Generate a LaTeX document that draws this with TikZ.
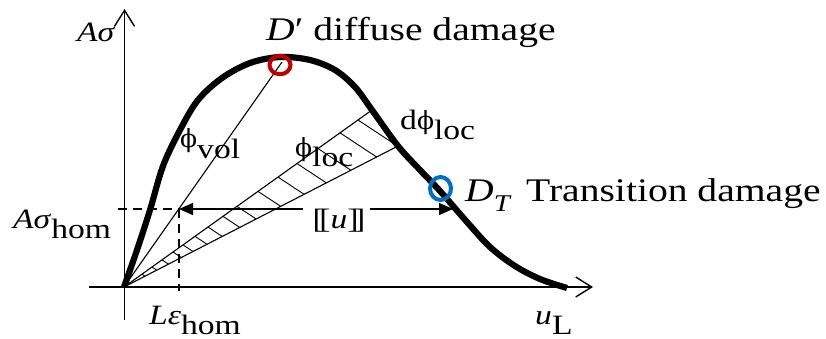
\documentclass[tikz,border=0pt]{standalone}
\usepackage{fontspec}
\setmainfont{Liberation Serif}[FakeStretch=1.2]
\newfontfamily\phifont{DejaVu Serif}
\usetikzlibrary{arrows.meta,calc,shapes.geometric}
\definecolor{dred}{HTML}{C00000}
\definecolor{dblue}{HTML}{0070C0}
\newcommand{\fsz}[1]{\fontsize{#1}{#1}\selectfont}
\newcommand{\lsub}[1]{\raisebox{-10pt}{#1}}
\newcommand{\phig}{{\phifont\fsz{25}ϕ}}
\begin{document}
\begin{tikzpicture}[x=1pt,y=-1pt,
  axis/.style={line width=1.4pt,-{Straight Barb[length=16pt,width=20pt,line width=1.4pt]}},
  thinln/.style={line width=1.1pt},
  hatchln/.style={line width=0.9pt},
  bigcurve/.style={line width=6.2pt,line join=round},
  dsh/.style={line width=1.3pt,dash pattern=on 9pt off 6pt},
  uarrow/.style={line width=1.3pt,-{Triangle[length=14pt,width=12pt]}},
  lbl/.style={inner sep=0pt,anchor=base west,font=\fsz{28}},
  biglbl/.style={inner sep=0pt,anchor=base west,font=\fsz{33}},
  ring/.style={ellipse,line width=4pt,inner sep=0pt}]
\useasboundingbox (0,0) rectangle (826,339);
% key points
\coordinate (O) at (124,287);
\coordinate (Yb) at (124.5,320);
\coordinate (Yt) at (124.5,9);
\coordinate (Xl) at (89,287);
\coordinate (Xt) at (593,287);
\coordinate (P) at (282,62);
\coordinate (U) at (372,110);
\coordinate (W) at (398,146);
\coordinate (Hc) at (179,209);
\coordinate (Hl) at (118,209);
\coordinate (Vb) at (179,291);
\coordinate (aL) at (303,209);
\coordinate (aR) at (370,209);
\coordinate (R) at (453,209);
% axes
\draw[axis] (Yb) -- (Yt);
\draw[axis] (Xl) -- (Xt);
% dashed guides
\draw[dsh] (Hl) -- (Hc);
\draw[dsh] (Hc) -- (Vb);
% secant lines
\draw[thinln] (O) -- (P);
\draw[thinln] (O) -- (U);
\draw[thinln] (O) -- (W);
% hatching
\foreach \xx in {142,152,162,173,183,195,208,223,237,258,278,297,318,340,358} {
  \pgfmathsetmacro\tpos{(\xx-124)/248}
  \coordinate (h) at ($(O)!\tpos!(U)$);
  \draw[hatchln] (h) -- (intersection cs: first line={(h)--($(h)+(20,13.2)$)}, second line={(O)--(W)});
}
% curve
\draw[bigcurve] plot[smooth,tension=0.55] coordinates {(124,287) (137,250) (150,210) (163,166) (180,130) (198,100) (222,78) (250,63) (280,57) (310,60) (335,70) (355,87) (372,110) (398,146) (420,170) (440,191) (467,222) (490,247) (515,266) (540,279) (567,288)};
% jump arrow
\node[inner sep=0pt,font=\fsz{28}] (ulab) at (339,221) {[\kern-0.16em[\textit{u}]\kern-0.16em]};
\draw[uarrow] (aL) -- (Hc);
\draw[uarrow] (aR) -- (R);
% damage markers
\node[ring,draw=dred,minimum width=21pt,minimum height=18.5pt] (Dp) at (280,65) {};
\node[ring,draw=dblue,minimum width=21pt,minimum height=23pt] (DT) at (440.5,188.5) {};
% labels
\node[lbl] (Asig) at (77,42) {\textit{Aσ}};
\node[biglbl] (Dplab) at (266,41) {\textit{D}′ diffuse damage};
\node[lbl] (phivol) at (180,148) {\phig\lsub{vol}};
\node[lbl] (philoc) at (295,157) {\phig\lsub{loc}};
\node[lbl] (dphiloc) at (400,130) {d\phig\lsub{loc}};
\node[biglbl] (DTlab) at (465,201) {\textit{D}\lsub{\fsz{24}\textit{T}}};
\node[biglbl] (TDlab) at (526,201) {Transition damage};
\node[lbl] (Ahom) at (13,228) {\textit{Aσ}\lsub{hom}};
\node[lbl] (Lhom) at (149,324) {\textit{Lε}\lsub{hom}};
\node[lbl] (uL) at (535,324) {\textit{u}\lsub{L}};
\end{tikzpicture}
\end{document}
